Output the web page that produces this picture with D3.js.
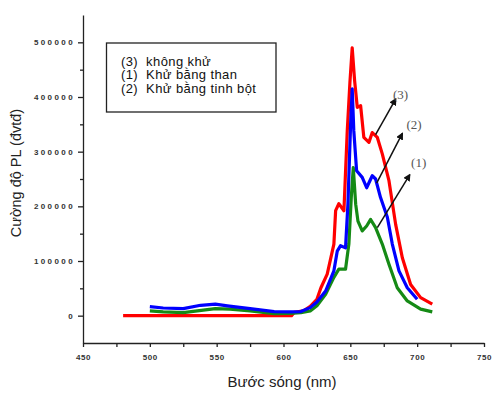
<!DOCTYPE html>
<html>
<head>
<meta charset="utf-8">
<script src="https://cdn.jsdelivr.net/npm/d3@7"></script>
<style>
  body { margin: 0; background: #fff; }
  .tick text { font-family: "Liberation Sans", Arial, sans-serif; }
</style>
</head>
<body>
<script>

// ================================ data
// (3) khong khu - red
var redWl  = [480, 500, 550, 600, 606, 608, 615, 620, 625, 628, 632.7, 637.7, 639, 641.4, 645.2, 647.7, 649.7, 651.4, 653.2, 655.2, 657.7, 660.1, 663.9, 666.4, 670.2, 673.9, 678.9, 683.9, 688.9, 695.1, 702.6, 711.3];
var redVal = [0, 0, 0, 0, 0, 6000, 9000, 17000, 30000, 51000, 76000, 131000, 192000, 205000, 192000, 338000, 427000, 490000, 430000, 381000, 384000, 326000, 317000, 335000, 326000, 296000, 247000, 167000, 106000, 57000, 33000, 21000];

// (2) khu bang tinh bot - blue
var blueWl  = [500, 510, 525, 538, 549, 558, 575, 593, 605, 613, 620, 625, 631.5, 637.7, 640.2, 642.7, 646.4, 648.2, 650.2, 651.4, 652.6, 654.7, 658.9, 662.2, 666.4, 668.9, 672.6, 677.7, 681.4, 686.4, 692.6, 700];
var blueVal = [16500, 14000, 13000, 19000, 21000, 18000, 13000, 7500, 7000, 7500, 14700, 25000, 45000, 82000, 118000, 128000, 124000, 204000, 350000, 415000, 338000, 265000, 253000, 234000, 256000, 250000, 216000, 180000, 131000, 82000, 51000, 30000];

// (1) khu bang than - green
var greenWl  = [500, 510, 525, 549, 560, 575, 593, 605, 613, 620, 625, 631.5, 637.7, 641.4, 646.4, 648.9, 650.7, 652.2, 654, 655.7, 658.9, 662.2, 665.2, 668.9, 673.9, 678.9, 685.1, 692.6, 702.6, 711.3];
var greenVal = [8600, 7000, 5500, 12800, 12000, 8600, 3700, 4000, 5500, 8600, 18000, 39000, 70000, 85000, 85000, 131000, 216000, 271000, 204000, 173000, 155000, 164000, 176000, 161000, 131000, 94000, 51000, 27000, 12000, 7000];

var legendLabels = ["(3)  không khử", "(1)  Khử bằng than", "(2)  Khử bằng tinh bột"];

var xTicks = [450, 500, 550, 600, 650, 700, 750];
var yTicks = [0, 100000, 200000, 300000, 400000, 500000];

// arrows: label, start point, end point, label position (data units)
var arrowLabels = ["(3)", "(2)", "(1)"];
var arrowFrom = [[668.9, 331000], [669.7, 242500], [670.2, 161200]];
var arrowTo   = [[683.9, 396300], [688.9, 333300], [694.4, 257700]];
var labelPos  = [[687.6, 396900], [697.7, 341900], [701.1, 272300]];

// ================================ svg
var svgWidth = 493;
var svgHeight = 393;

var chartMargin = { top: 15, right: 9, bottom: 50, left: 83 };
var chartWidth = svgWidth - chartMargin.left - chartMargin.right;
var chartHeight = svgHeight - chartMargin.top - chartMargin.bottom;

var svg = d3.select("body")
  .append("svg")
  .attr("width", svgWidth)
  .attr("height", svgHeight);

var chartGroup = svg.append("g")
  .attr("transform", `translate(${chartMargin.left}, ${chartMargin.top})`);

var xScale = d3.scaleLinear().domain([450, 750]).range([0, chartWidth]);
var yScale = d3.scaleLinear().domain([-50000, 550000]).range([chartHeight, 0]);

// minor ticks first
chartGroup.append("g")
  .attr("transform", `translate(0, ${chartHeight})`)
  .call(d3.axisBottom(xScale).tickValues(d3.range(475, 750, 50)).tickSize(4).tickFormat(""))
  .call(g => g.select(".domain").remove());

chartGroup.append("g")
  .call(d3.axisLeft(yScale).tickValues(d3.range(50000, 550000, 100000)).tickSize(3).tickFormat(""))
  .call(g => g.select(".domain").remove());

// major axes
var bottomAxis = d3.axisBottom(xScale).tickValues(xTicks).tickSize(4).tickSizeOuter(0).tickPadding(7);
var leftAxis = d3.axisLeft(yScale).tickValues(yTicks).tickSize(5).tickSizeOuter(0).tickPadding(3)
  .tickFormat(d3.format("d"));

chartGroup.append("g")
  .attr("transform", `translate(0, ${chartHeight})`)
  .call(bottomAxis)
  .selectAll("text")
  .style("font-size", "8px")
  .style("font-weight", "bold")
  .style("letter-spacing", "0.6px")
  .attr("fill", "#333");

chartGroup.append("g")
  .call(leftAxis)
  .selectAll("text")
  .style("font-size", "8px")
  .style("font-weight", "bold")
  .style("letter-spacing", "2.4px")
  .attr("fill", "#333");

chartGroup.selectAll(".domain, .tick line")
  .attr("stroke", "#222")
  .attr("stroke-width", 1.3);

// ================================ lines
var line = d3.line()
  .x(d => xScale(d[0]))
  .y(d => yScale(d[1]));

var series = [
  { wl: redWl, val: redVal, color: "#ff0000" },
  { wl: greenWl, val: greenVal, color: "#158a15" },
  { wl: blueWl, val: blueVal, color: "#0000ff" }
];

series.forEach(function (s) {
  var pts = s.wl.map((w, i) => [w, s.val[i]]);
  chartGroup.append("path")
    .datum(pts)
    .attr("d", line)
    .attr("fill", "none")
    .attr("stroke", s.color)
    .attr("stroke-width", 3.2)
    .attr("stroke-linejoin", "round");
});

// ================================ arrows
svg.append("defs").append("marker")
  .attr("id", "arrow")
  .attr("viewBox", "0 0 10 10")
  .attr("refX", 8).attr("refY", 5)
  .attr("markerWidth", 5).attr("markerHeight", 5)
  .attr("orient", "auto")
  .append("path")
  .attr("d", "M0,0 L10,5 L0,10 z")
  .attr("fill", "#111");

arrowLabels.forEach(function (lab, i) {
  chartGroup.append("line")
    .attr("x1", xScale(arrowFrom[i][0]))
    .attr("y1", yScale(arrowFrom[i][1]))
    .attr("x2", xScale(arrowTo[i][0]))
    .attr("y2", yScale(arrowTo[i][1]))
    .attr("stroke", "#111")
    .attr("stroke-width", 1.5)
    .attr("marker-end", "url(#arrow)");

  chartGroup.append("text")
    .attr("x", xScale(labelPos[i][0]))
    .attr("y", yScale(labelPos[i][1]))
    .attr("text-anchor", "middle")
    .style("font-family", "'Liberation Serif', 'Times New Roman', serif")
    .style("font-size", "13px")
    .attr("fill", "#555")
    .text(lab);
});

// ================================ legend
svg.append("rect")
  .attr("x", 106.5).attr("y", 43)
  .attr("width", 169.5).attr("height", 69)
  .attr("fill", "#fff")
  .attr("stroke", "#222")
  .attr("stroke-width", 1.3);

svg.selectAll(".legend")
  .data(legendLabels)
  .enter()
  .append("text")
  .attr("class", "legend")
  .attr("x", 121)
  .attr("y", (d, i) => 65.5 + i * 13.8)
  .style("font-family", "'Liberation Sans', Arial, sans-serif")
  .style("font-size", "13px")
  .style("letter-spacing", "0.4px")
  .attr("fill", "#111")
  .style("white-space", "pre")
  .text(d => d);

// ================================ axis titles
svg.append("text")
  .attr("x", 282)
  .attr("y", 387)
  .attr("text-anchor", "middle")
  .style("font-family", "'Liberation Sans', Arial, sans-serif")
  .style("font-size", "15px")
  .attr("fill", "#222")
  .text("Bước sóng (nm)");

svg.append("text")
  .attr("transform", "translate(21, 173) rotate(-90)")
  .attr("text-anchor", "middle")
  .style("font-family", "'Liberation Sans', Arial, sans-serif")
  .style("font-size", "14.5px")
  .attr("fill", "#222")
  .text("Cường độ PL (đvtđ)");

</script>
</body>
</html>
